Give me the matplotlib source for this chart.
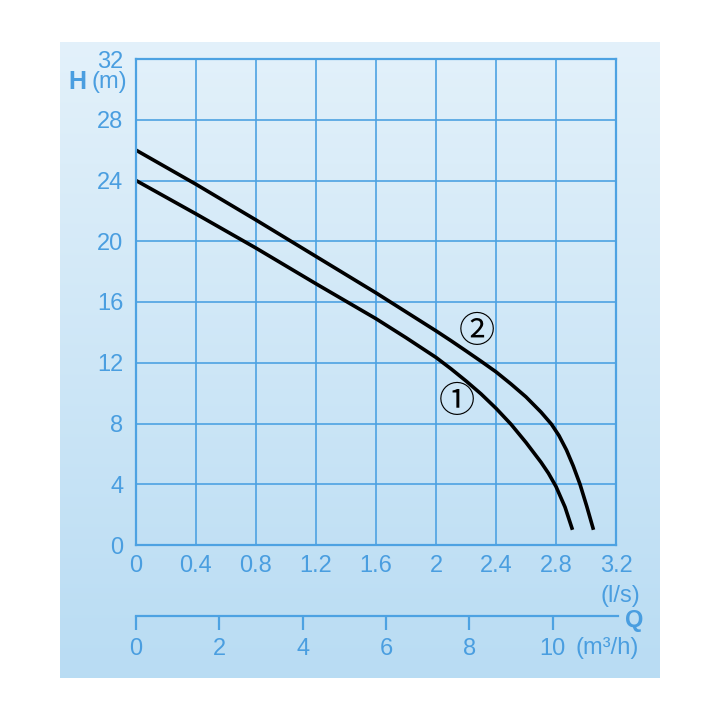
import numpy as np
import matplotlib
matplotlib.use("Agg")
import matplotlib.pyplot as plt

plt.rcParams['font.family'] = ['Liberation Sans', 'DejaVu Sans']

# pump curves, Q in l/s, H in m
q1 = [0, 0.4, 0.8, 1.2, 1.6, 1.8, 2.0, 2.1, 2.2, 2.3, 2.4, 2.5, 2.6, 2.7, 2.75, 2.8,
      2.86, 2.91]
h1 = [24, 21.8, 19.55, 17.2, 14.9, 13.65, 12.35, 11.6, 10.8, 9.95, 9.0, 7.95, 6.75, 5.45,
      4.72, 3.85, 2.5, 1.0]
q2 = [0, 0.4, 0.8, 1.2, 1.6, 1.8, 2.0, 2.1, 2.2, 2.3, 2.4, 2.5, 2.6, 2.7, 2.77, 2.82,
      2.87, 2.915, 2.96, 3.005, 3.05]
h2 = [26, 23.75, 21.4, 19.0, 16.6, 15.35, 14.1, 13.45, 12.78, 12.1, 11.4, 10.6, 9.75, 8.75,
      7.95, 7.2, 6.25, 5.2, 4.0, 2.55, 1.0]

q_ticks = [0, 0.4, 0.8, 1.2, 1.6, 2, 2.4, 2.8, 3.2]
q_ticklabels = ["0", "0.4", "0.8", "1.2", "1.6", "2", "2.4", "2.8", "3.2"]
h_ticks = [0, 4, 8, 12, 16, 20, 24, 28, 32]
m3h_ticks = [0, 2, 4, 6, 8, 10]

blue = '#4a9ee0'
grid_blue = '#4da2e2'

W = 720.0
fig = plt.figure(figsize=(7.2, 7.2), dpi=100)

# gradient panel
bg = fig.add_axes([60/W, 1-678/W, 600/W, 636/W])
grad = np.linspace(0, 1, 256).reshape(-1, 1)
top = np.array([0.890, 0.945, 0.982])
bot = np.array([0.725, 0.863, 0.953])
img = top + (bot - top) * grad[:, :, None]
bg.imshow(img, aspect='auto', extent=[0, 1, 0, 1])
bg.axis('off')

ax = fig.add_axes([136/W, 1-545/W, 480/W, 486/W])
ax.set_facecolor('none')
ax.plot(q1, h1, color='black', lw=2.6, solid_capstyle='butt', solid_joinstyle='round')
ax.plot(q2, h2, color='black', lw=2.6, solid_capstyle='butt', solid_joinstyle='round')
ax.text(2.14, 9.4, '①', fontsize=26, ha='center', va='center',
        family=['Noto Sans CJK SC', 'DejaVu Sans'])
ax.text(2.27, 14.0, '②', fontsize=26, ha='center', va='center',
        family=['Noto Sans CJK SC', 'DejaVu Sans'])

ax.set_xlim(0, 3.2)
ax.set_ylim(0, 32)
ax.set_xticks(q_ticks)
ax.set_xticklabels(q_ticklabels)
ax.set_yticks(h_ticks)
ax.grid(True, color=grid_blue, lw=1.2)
ax.set_axisbelow(True)
for s in ax.spines.values():
    s.set_color(grid_blue)
    s.set_linewidth(1.6)
ax.tick_params(length=0, labelsize=17, labelcolor=blue)
ax.tick_params(axis='y', pad=9)
ax.tick_params(axis='x', pad=7)

# second scale in m3/h
ax2 = fig.add_axes([136/W, 1-616/W, 482/W, 0.001])
ax2.set_facecolor('none')
ax2.set_xlim(0, 3.2 * 3.6 * 482 / 480)
ax2.set_yticks([])
ax2.set_xticks(m3h_ticks)
for k in ['top', 'left', 'right']:
    ax2.spines[k].set_visible(False)
ax2.spines['bottom'].set_color(grid_blue)
ax2.spines['bottom'].set_linewidth(1.6)
ax2.tick_params(axis='x', direction='out', length=10, width=1.6, color=grid_blue,
                labelsize=17, labelcolor=blue, pad=6)

fig.text(77/W, 1-82/W, 'H', fontsize=18, fontweight='bold', color=blue, ha='center', va='center')
fig.text(109/W, 1-82/W, '(m)', fontsize=17, color=blue, ha='center', va='center')
fig.text(620/W, 1-596/W, '(l/s)', fontsize=17, color=blue, ha='center', va='center')
fig.text(634/W, 1-620/W, 'Q', fontsize=17, fontweight='bold', color=blue, ha='center', va='center')
fig.text(607/W, 1-648/W, '(m³/h)', fontsize=17, color=blue, ha='center', va='center')

fig.savefig('out.png', dpi=100)
